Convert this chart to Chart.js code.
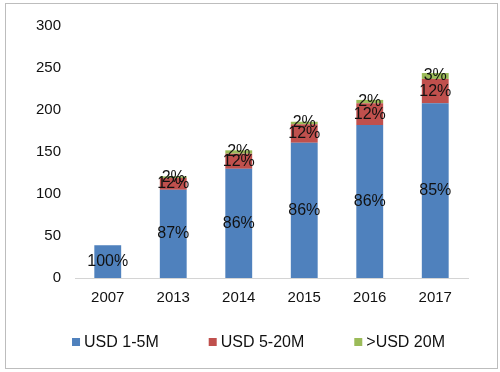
<!DOCTYPE html>
<html>
<head>
<meta charset="utf-8">
<script src="https://cdn.jsdelivr.net/npm/chart.js@4/dist/chart.umd.min.js"></script>
<style>
  html, body { margin: 0; padding: 0; background: #fff; }
  #wrap { position: relative; width: 500px; height: 372px; }
  #frame { position: absolute; left: 5px; top: 3px; width: 491px; height: 364px; border: 1px solid #bdbdbd; pointer-events: none; }
  canvas { position: absolute; left: 0; top: 0; }
</style>
</head>
<body>
<div id="wrap">
  <canvas id="chart" width="500" height="372"></canvas>
  <div id="frame"></div>
</div>
<script>
// dane
const years = ['2007', '2013', '2014', '2015', '2016', '2017'];
const usd1to5 = [39, 105, 130, 161, 182, 208];
const usd5to20 = [0, 14, 18, 22, 26, 29];
const usdOver20 = [0, 2, 4, 3, 4, 7];

const lbl1to5 = ['100%', '87%', '86%', '86%', '86%', '85%'];
const lbl5to20 = ['', '12%', '12%', '12%', '12%', '12%'];
const lblOver20 = ['', '2%', '2%', '2%', '2%', '3%'];

const yTicks = [0, 50, 100, 150, 200, 250, 300];

const FONT = '"Liberation Sans", Arial, sans-serif';
Chart.defaults.font.family = FONT;
Chart.defaults.color = '#111';

// etykiety procentowe na środku segmentów
const segmentLabels = {
  id: 'segmentLabels',
  afterDatasetsDraw(chart) {
    const ctx = chart.ctx;
    ctx.save();
    ctx.font = '16px ' + FONT;
    ctx.fillStyle = '#111';
    ctx.textAlign = 'center';
    ctx.textBaseline = 'middle';
    chart.data.datasets.forEach((ds, i) => {
      const meta = chart.getDatasetMeta(i);
      meta.data.forEach((bar, j) => {
        const txt = ds.pctLabels[j];
        if (!txt || !ds.data[j]) return;
        ctx.fillText(txt, bar.x, (bar.y + bar.base) / 2);
      });
    });
    ctx.restore();
  }
};

// legenda pod wykresem (jak w Excelu: mały kwadrat + tekst)
const bottomLegend = {
  id: 'bottomLegend',
  afterDraw(chart) {
    const ctx = chart.ctx;
    const box = 8, gapText = 4, gapItem = 50, cx = 258.5, cy = 342;
    ctx.save();
    ctx.font = '16px ' + FONT;
    ctx.textBaseline = 'middle';
    ctx.textAlign = 'left';
    const items = chart.data.datasets.map(ds => ({
      text: ds.label, color: ds.backgroundColor, w: box + gapText + ctx.measureText(ds.label).width
    }));
    const total = items.reduce((s, it) => s + it.w, 0) + gapItem * (items.length - 1);
    let x = cx - total / 2;
    items.forEach(it => {
      ctx.fillStyle = it.color;
      ctx.fillRect(x, cy - box / 2, box, box);
      ctx.fillStyle = '#111';
      ctx.fillText(it.text, x + box + gapText, cy + 1);
      x += it.w + gapItem;
    });
    ctx.restore();
  }
};

new Chart(document.getElementById('chart'), {
  type: 'bar',
  data: {
    labels: years,
    datasets: [
      { label: 'USD 1-5M', data: usd1to5, pctLabels: lbl1to5, backgroundColor: '#4f81bd', borderWidth: 0 },
      { label: 'USD 5-20M', data: usd5to20, pctLabels: lbl5to20, backgroundColor: '#c0504d', borderWidth: 0 },
      { label: '>USD 20M', data: usdOver20, pctLabels: lblOver20, backgroundColor: '#9bbb59', borderWidth: 0 }
    ]
  },
  options: {
    responsive: false,
    animation: false,
    datasets: { bar: { barPercentage: 0.41, categoryPercentage: 1 } },
    layout: { padding: { left: 17, right: 32, top: 26, bottom: 62 } },
    plugins: {
      legend: { display: false },
      tooltip: { enabled: false }
    },
    scales: {
      x: {
        stacked: true,
        grid: { display: false, drawTicks: false },
        border: { display: true, color: '#d4d4d4', width: 1 },
        ticks: { padding: 11, color: '#111', font: { size: 15 } },
        afterFit(s) { s.height = 32; }
      },
      y: {
        stacked: true,
        min: 0,
        max: 300,
        grid: { display: false, drawTicks: false },
        border: { display: false },
        afterBuildTicks(s) { s.ticks = yTicks.map(v => ({ value: v })); },
        ticks: { padding: 14, color: '#111', font: { size: 15 } },
        afterFit(s) { s.width = 58; }
      }
    }
  },
  plugins: [segmentLabels, bottomLegend]
});
</script>
</body>
</html>
